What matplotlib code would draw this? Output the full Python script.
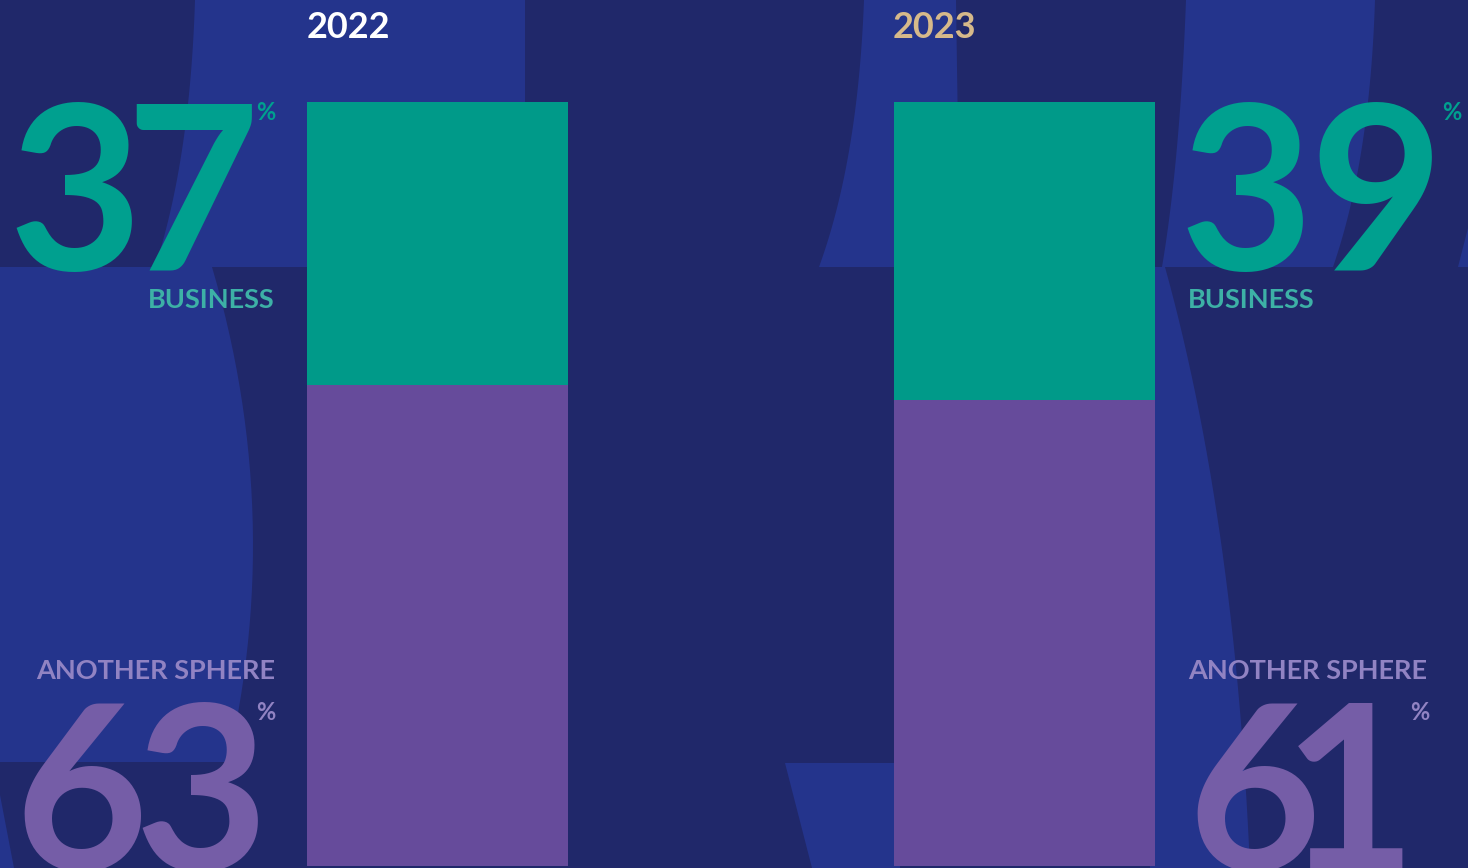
import matplotlib.pyplot as plt
from matplotlib.patches import Polygon
import numpy as np

# data
years = ["2022", "2023"]
business = [37, 39]
another = [63, 61]
year_colors = ["#ffffff", "#d6b98a"]

# colours
BG_DARK = "#20286a"
BG_LIGHT = "#24348c"
TEAL_BAR = "#009a89"
PURPLE_BAR = "#664b9b"
TEAL_NUM = "#00a08f"
PURPLE_NUM = "#755da7"
TEAL_LBL = "#3db1a6"
PURPLE_LBL = "#9183c3"

W, H = 1468, 868

plt.rcParams['font.family'] = ['Lato', 'DejaVu Sans']

fig = plt.figure(figsize=(W / 100, H / 100), dpi=100)
fig.patch.set_facecolor(BG_DARK)

# background decoration, pixel coordinates (y down)
bg = fig.add_axes([0, 0, 1, 1])
bg.set_xlim(0, W)
bg.set_ylim(H, 0)
bg.axis("off")


def bez(p0, c, p1, n=30):
    t = np.linspace(0, 1, n)[:, None]
    p0, c, p1 = np.array(p0), np.array(c), np.array(p1)
    return (1 - t) ** 2 * p0 + 2 * (1 - t) * t * c + t ** 2 * p1


def shape(pts):
    bg.add_patch(Polygon(np.vstack(pts), closed=True, color=BG_LIGHT, lw=0, zorder=1))


# top left band
shape([bez((195, 0), (190, 160), (155, 267)), [[525, 267], [525, 0]]])
# left lobe
shape([[[0, 267]], bez((212, 267), (285, 515), (228, 762)), [[0, 762]]])
# bottom left sliver
shape([[[0, 795], [14, 868], [0, 868]]])
# middle top band
shape([bez((864, 0), (858, 160), (819, 267)), [[960, 267], [956, 0]]])
# middle bottom wedge
shape([[[785, 763], [900, 763], [900, 868], [812, 868]]])
# right top band
shape([bez((1186, 0), (1180, 160), (1162, 267)), bez((1333, 267), (1370, 160), (1375, 0))])
# right lower region
shape([[[1150, 267]], bez((1165, 267), (1235, 520), (1250, 868)), [[1150, 868]]])
# right edge wedge
shape([[[1458, 267], [1468, 267], [1468, 228]]])

# stacked bars
ax = fig.add_axes([0, 2 / H, 1, (866 - 102) / H])
ax.set_xlim(0, W)
ax.set_ylim(0, 100)
ax.axis("off")
ax.patch.set_alpha(0)
bar_x = [437.5, 1024]
ax.bar(bar_x, another, width=261, color=PURPLE_BAR, zorder=2)
ax.bar(bar_x, business, bottom=another, width=261, color=TEAL_BAR, zorder=2)

# year titles
for i, yr in enumerate(years):
    bg.text(bar_x[i] - 131, 27, yr, color=year_colors[i], fontsize=26,
            fontweight="bold", ha="left", va="center", zorder=5)


def big_number(value, centers, y, color):
    # digits set one by one to get the tight spacing of the original
    for ch, cx in zip(str(value), centers):
        bg.text(cx, y, ch, color=color, fontsize=166, fontweight="bold",
                ha="center", va="baseline", zorder=5)


# left side (2022)
big_number(business[0], [75, 192], 270, TEAL_NUM)
big_number(another[0], [81, 201], 870, PURPLE_NUM)
# right side (2023)
big_number(business[1], [1246, 1376], 270, TEAL_NUM)
big_number(another[1], [1254, 1350], 870, PURPLE_NUM)

pct = dict(fontsize=17, fontweight="bold", ha="center", va="center", zorder=5)
bg.text(266, 112, "%", color=TEAL_NUM, **pct)
bg.text(266, 712, "%", color=PURPLE_LBL, **pct)
bg.text(1452, 112, "%", color=TEAL_NUM, **pct)
bg.text(1420, 712, "%", color=PURPLE_LBL, **pct)

lbl = dict(fontsize=19.5, fontweight="bold", va="center", zorder=5)
bg.text(275, 300, "BUSINESS", color=TEAL_LBL, ha="right", **lbl)
bg.text(275, 671, "ANOTHER SPHERE", color=PURPLE_LBL, ha="right", **lbl)
bg.text(1188, 300, "BUSINESS", color=TEAL_LBL, ha="left", **lbl)
bg.text(1188, 671, "ANOTHER SPHERE", color=PURPLE_LBL, ha="left", **lbl)

fig.savefig("out.png", dpi=100, facecolor=BG_DARK)
